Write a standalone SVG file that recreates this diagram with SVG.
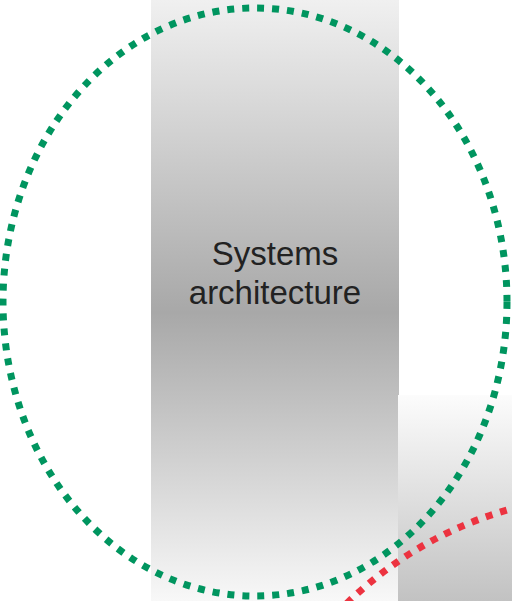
<svg xmlns="http://www.w3.org/2000/svg" width="512" height="601" viewBox="0 0 512 601">
  <defs>
    <linearGradient id="bandGrad" x1="0" y1="0" x2="0" y2="1">
      <stop offset="0" stop-color="#f0f0f0"/>
      <stop offset="0.52" stop-color="#a8a8a8"/>
      <stop offset="1" stop-color="#f8f8f8"/>
    </linearGradient>
    <linearGradient id="boxGrad" x1="0" y1="0" x2="0" y2="1">
      <stop offset="0" stop-color="#fcfcfc"/>
      <stop offset="1" stop-color="#c2c2c2"/>
    </linearGradient>
    <style>
      .ring { fill: none; stroke-width: 7; stroke-dasharray: 7 8; }
      .label { font-family: "Liberation Sans", Arial, sans-serif; font-size: 33px; fill: #222222; text-anchor: middle; }
    </style>
  </defs>
  <rect width="512" height="601" fill="#ffffff"/>
  <g id="band">
    <rect x="151" y="0" width="248" height="601" fill="url(#bandGrad)"/>
  </g>
  <g id="box">
    <rect x="398" y="395" width="114" height="206" fill="url(#boxGrad)"/>
  </g>
  <g id="rings">
    <ellipse id="green-ring" class="ring" cx="255" cy="302" rx="252" ry="294" stroke="#00955f"/>
    <circle id="red-ring" class="ring" cx="613" cy="876" r="381" stroke="#ec3340"/>
  </g>
  <g id="label">
    <text class="label" x="275" y="265">Systems</text>
    <text class="label" x="275" y="304">architecture</text>
  </g>
</svg>
